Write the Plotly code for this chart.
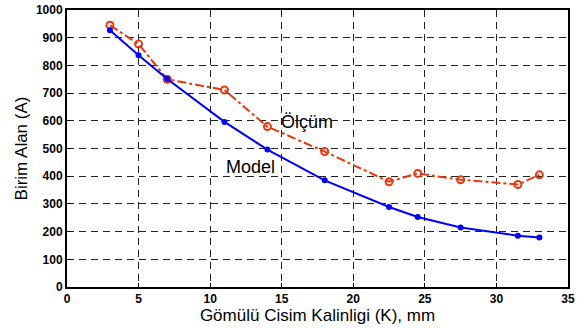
import plotly.graph_objects as go

x_vals = [3, 5, 7, 11, 14, 18, 22.5, 24.5, 27.5, 31.5, 33]
model = [927, 837, 751, 596, 496, 385, 289, 253, 215, 185, 179]
olcum = [945, 877, 750, 711, 579, 489, 380, 410, 387, 370, 405]
x_ticks = [0, 5, 10, 15, 20, 25, 30, 35]
y_ticks = [0, 100, 200, 300, 400, 500, 600, 700, 800, 900, 1000]

FONT = "Arial, Liberation Sans, sans-serif"

fig = go.Figure()
fig.add_trace(go.Scatter(
    x=x_vals, y=olcum, mode="lines+markers",
    line=dict(color="#E8380D", width=2, dash="dashdot"),
    marker=dict(symbol="circle-open", size=7, color="#E8380D", line=dict(width=2)),
    showlegend=False))
fig.add_trace(go.Scatter(
    x=x_vals, y=model, mode="lines+markers",
    line=dict(color="#0000FF", width=2),
    marker=dict(symbol="circle", size=6, color="#0000FF"),
    showlegend=False))

fig.add_annotation(x=16.8, y=597, text="Ölçüm", showarrow=False,
                   font=dict(family=FONT, size=18, color="black"))
fig.add_annotation(x=12.8, y=435, text="Model", showarrow=False,
                   font=dict(family=FONT, size=18, color="black"))

axis_common = dict(
    showline=True, linecolor="black", linewidth=2, mirror=True,
    showgrid=True, gridcolor="#222222", gridwidth=1, griddash="7px,5px",
    zeroline=False, ticks="inside", ticklen=4, tickcolor="black",
    automargin=False,
    tickfont=dict(family=FONT, size=12, color="black", weight=700),
)

fig.update_xaxes(range=[0, 35], tickvals=x_ticks,
                 ticktext=[f"<b>{t}</b>" for t in x_ticks],
                 title=dict(text="Gömülü Cisim Kalinligi (K), mm", standoff=1,
                            font=dict(family=FONT, size=17, color="black")),
                 **axis_common)
fig.update_yaxes(range=[0, 1000], tickvals=y_ticks,
                 ticktext=[f"<b>{t}</b>" for t in y_ticks],
                 title=dict(text="Birim Alan (A)", standoff=4,
                            font=dict(family=FONT, size=17, color="black")),
                 **axis_common)

fig.update_layout(
    width=582, height=328,
    margin=dict(l=67, r=14, t=10, b=41, autoexpand=False),
    plot_bgcolor="white", paper_bgcolor="white",
)

fig.write_html("out.html", config={"displayModeBar": False},
               post_script="document.body.style.margin='0';")
